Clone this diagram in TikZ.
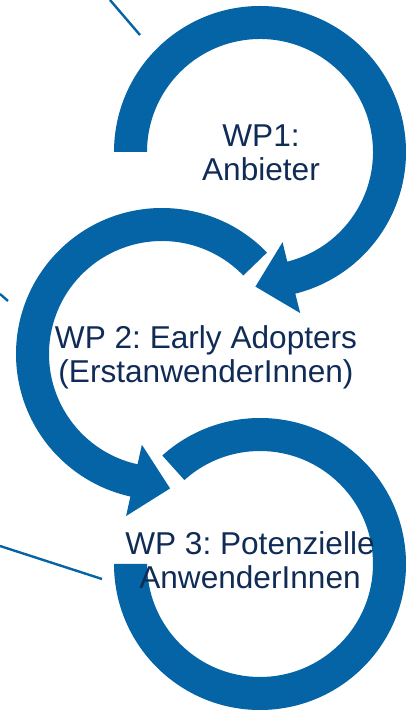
\documentclass[tikz,border=0pt]{standalone}
\usepackage{fontspec}
\setmainfont{Liberation Sans}
\usetikzlibrary{calc}
\definecolor{arcblue}{RGB}{4,100,166}
\definecolor{txtnavy}{RGB}{16,44,86}
\frenchspacing
\tikzset{
  ring/.style={fill=arcblue, draw=none},
  callout/.style={draw=arcblue, line width=2.4pt},
  wptext/.style={text=txtnavy, inner sep=0pt, anchor=base,
    font=\fontsize{31.6}{33.5}\selectfont\frenchspacing}
}
\begin{document}
\begin{tikzpicture}[x=1pt,y=1pt]
\useasboundingbox (0,0) rectangle (407,710);
\coordinate (C1) at (260,558);
\coordinate (C2) at (162,356);
\coordinate (C3) at (260,146);
% ring 1 with arrow
\fill[ring] ($(C1)+(180:146)$) arc[start angle=180,end angle=-76,radius=146]
  -- ($(C1)+(-76:166)$) -- ($(C1)+(-76:129.5)+(-166:37)$) -- ($(C1)+(-76:93)$)
  -- ($(C1)+(-76:113)$)
  arc[start angle=-76,end angle=180,radius=113] -- cycle;
% ring 2 with arrow
\fill[ring] ($(C2)+(44:146)$) arc[start angle=44,end angle=257.5,radius=146]
  -- ($(C2)+(257.5:166)$) -- ($(C2)+(257.5:129.5)+(347.5:37)$) -- ($(C2)+(257.5:93)$)
  -- ($(C2)+(257.5:113)$)
  arc[start angle=257.5,end angle=44,radius=113] -- cycle;
% ring 3
\fill[ring] ($(C3)+(180:146)$) arc[start angle=180,end angle=492,radius=146]
  -- ($(C3)+(492:113)$) arc[start angle=492,end angle=180,radius=113] -- cycle;
% callout lines
\coordinate (t1a) at (110,710); \coordinate (t1b) at (140,675);
\coordinate (t2a) at (0,416);   \coordinate (t2b) at (8,409);
\coordinate (t3a) at (0,164);   \coordinate (t3b) at (102,131);
\draw[callout] (t1a) -- (t1b);
\draw[callout] (t2a) -- (t2b);
\draw[callout] (t3a) -- (t3b);
% texts
\node[wptext] (wp1) at (261,563) {\begin{tabular}[t]{@{}c@{}}WP1:\\Anbieter\end{tabular}};
\node[wptext] (wp2) at (206,361) {\begin{tabular}[t]{@{}c@{}}WP 2: Early Adopters\\(ErstanwenderInnen)\end{tabular}};
\node[wptext] (wp3) at (250,155) {\begin{tabular}[t]{@{}c@{}}WP 3: Potenzielle\\AnwenderInnen\end{tabular}};
\end{tikzpicture}
\end{document}
